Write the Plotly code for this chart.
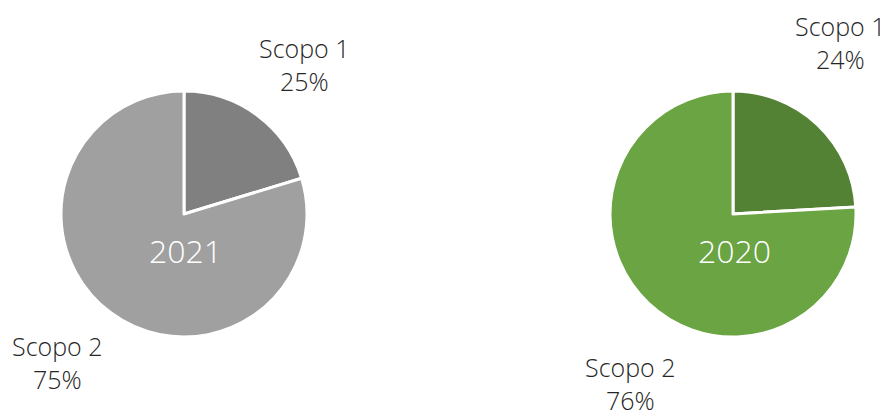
import plotly.graph_objects as go

categories = ["Scopo 1", "Scopo 2"]
years = ["2021", "2020"]
values_2021 = [20.3, 79.7]
values_2020 = [24.1, 75.9]
labels_pct_2021 = ["25%", "75%"]
labels_pct_2020 = ["24%", "76%"]

OFF = 8  # page body margin
W, H = 888 - OFF, 415 - OFF
colors_2021 = ["#808080", "#A0A0A0"]
colors_2020 = ["#548235", "#6AA443"]

def px_x(x):
    return (x - OFF) / W

def px_y(y):
    return 1 - (y - OFF) / H

fig = go.Figure()
pies = [
    (values_2021, colors_2021, (61, 307), (91, 337)),
    (values_2020, colors_2020, (610, 856), (91, 337)),
]
for vals, cols, (x0, x1), (y0, y1) in pies:
    fig.add_trace(go.Pie(
        labels=categories, values=vals, sort=False, direction="clockwise",
        rotation=0, textinfo="none", hoverinfo="label+percent",
        marker=dict(colors=cols, line=dict(color="white", width=3)),
        domain=dict(x=[px_x(x0), px_x(x1)], y=[px_y(y1), px_y(y0)]),
        showlegend=False,
    ))

FAM = "Open Sans, Lato, sans-serif"
font_lbl = dict(family=FAM, size=25, color="#262626", weight=300)
ann = []
for yr, cx in zip(years, [185, 734]):
    ann.append(dict(text=yr, x=px_x(cx), y=px_y(250), xref="paper", yref="paper",
                    xanchor="center", yanchor="middle", showarrow=False,
                    font=dict(family=FAM, size=32, color="white", weight=300)))
label_pos = [
    (categories[0], labels_pct_2021[0], 304, 64),
    (categories[1], labels_pct_2021[1], 57, 362),
    (categories[0], labels_pct_2020[0], 840, 43),
    (categories[1], labels_pct_2020[1], 630, 383),
]
for cat, pct, cx, cy in label_pos:
    ann.append(dict(text=f"{cat}<br>{pct}", x=px_x(cx), y=px_y(cy), xref="paper", yref="paper",
                    xanchor="center", yanchor="middle",
                    showarrow=False, align="center", font=font_lbl))

fig.update_layout(
    width=W, height=H, margin=dict(l=0, r=0, t=0, b=0),
    paper_bgcolor="white", plot_bgcolor="white",
    annotations=ann,
)
fig.write_html("out.html")
